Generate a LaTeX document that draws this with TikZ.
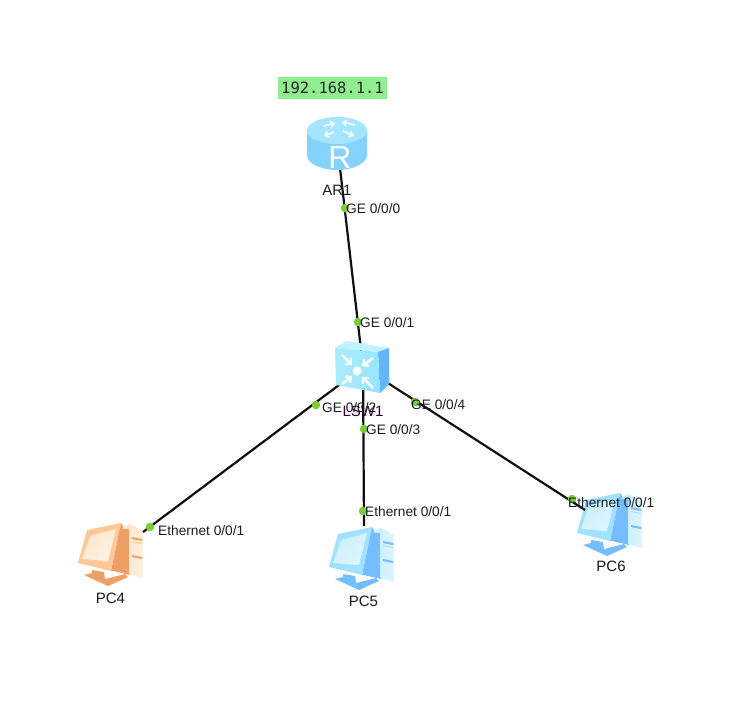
\documentclass[tikz,border=0pt]{standalone}
\usepackage{fontspec}
\setmainfont{Liberation Sans}
\newfontfamily\ipfont{DejaVu Sans Mono}
\usetikzlibrary{arrows.meta}
\definecolor{pcblueA}{HTML}{DDF5FF}
\definecolor{pcblueB}{HTML}{A0E2FF}
\definecolor{pcblueC}{HTML}{74BDFF}
\definecolor{pcblueD}{HTML}{CDF0FF}
\definecolor{pcorangeA}{HTML}{FFF3E2}
\definecolor{pcorangeB}{HTML}{FFC898}
\definecolor{pcorangeC}{HTML}{EE9F66}
\definecolor{pcorangeD}{HTML}{FFE6CE}
\definecolor{portgreen}{HTML}{7CCB3A}
\definecolor{linkblack}{HTML}{101010}
\definecolor{labeltext}{HTML}{1A1A22}
\definecolor{ipgreen}{HTML}{90EE90}
\definecolor{routertop}{HTML}{A4E6FF}
\definecolor{routerside}{HTML}{86D2FF}
\definecolor{switchfront}{HTML}{96E6FF}
\definecolor{switchtop}{HTML}{C0F2FF}
\definecolor{switchside}{HTML}{66B4FF}
\tikzset{
  link/.style={draw=linkblack,line width=2.2pt},
  port/.style={circle,fill=portgreen,inner sep=0pt,minimum size=8.5pt},
  portlabel/.style={font=\fontsize{13.7}{15}\selectfont,text=labeltext,inner sep=0pt,anchor=west},
  devlabel/.style={font=\fontsize{15}{16}\selectfont,text=labeltext,inner sep=0pt},
  anchornode/.style={inner sep=0pt,minimum size=0pt},
  whitearrow/.style={draw=white,line width=2.4pt,-{Straight Barb[length=4pt,width=8pt]}},
  thinwhite/.style={draw=white,line width=1.5pt,-{Straight Barb[length=3.5pt,width=6pt]}}
}
\newcommand{\pcicon}[3]{%
  \begin{scope}[shift={(#1,#2)}]
    % tower
    \fill[pc#3C] (370,532) -- (381,533) -- (381,579) -- (364,575) -- cycle;
    \fill[pc#3D] (370,532) -- (381,528) -- (394,535) -- (381,533) -- cycle;
    \shade[left color=pc#3D,right color=pc#3A] (380,533) -- (394,535) -- (394,582) -- (380,578) -- cycle;
    \fill[pc#3C] (383,541) -- (393,543) -- (393,545) -- (383,543) -- cycle;
    \fill[pc#3B] (383,545) -- (393,547) -- (393,548) -- (383,546) -- cycle;
    \fill[pc#3C] (383,559) -- (393,561) -- (393,563) -- (383,561) -- cycle;
    % stand
    \fill[pc#3C] (343,574) -- (355,576) -- (356,583) -- (376,578) -- (379,581) -- (359,590) -- (335,579) -- (343,577) -- cycle;
    % monitor
    \fill[pc#3C] (372,527) -- (374,530) -- (365,575) -- (362,575) -- cycle;
    \fill[pc#3B] (338,534) -- (372,527) -- (362,575) -- (329,567) -- cycle;
    \shade[left color=pc#3D,right color=pc#3A,shading angle=45] (341,540) -- (367,533) -- (359,565) -- (333,563) -- cycle;
  \end{scope}}
\begin{document}
\begin{tikzpicture}[x=1pt,y=-1pt]
\useasboundingbox (0,0) rectangle (742,721);
\fill[white] (0,0) rectangle (742,721);

% anchors of the devices
\node[anchornode] (ar) at (338,143) {};
\node[anchornode] (lsw) at (363,367) {};
\coordinate (arfoot) at (340,168);
\coordinate (fourend) at (143,532);
\coordinate (fiveend) at (364,526);
\coordinate (sixend) at (585,510);

% PC icons under the links
\pcicon{-251}{-4}{orange}
\pcicon{0}{0}{blue}
\pcicon{248}{-34}{blue}

% links
\draw[link] (arfoot) -- (lsw.center);
\draw[link] (lsw.center) -- (fourend);
\draw[link] (lsw.center) -- (fiveend);
\draw[link] (lsw.center) -- (sixend);

% router
\fill[routerside] (307,130) -- (307,155) arc[start angle=180,end angle=360,x radius=30pt,y radius=15pt] -- (367,130) -- cycle;
\fill[routertop] (337,130.5) ellipse[x radius=30pt,y radius=13.5pt];
\node[font=\fontsize{32}{32}\selectfont,text=white,inner sep=0pt] (rletter) at (340,157) {R};
\draw[thinwhite] (334,132) -- (324,136);
\draw[thinwhite] (343,131) -- (354,136);
\draw[thinwhite] (324,126) -- (335,123);
\draw[thinwhite] (355,125) -- (342,122);

% switch
\fill[switchtop] (335,348) -- (347,341) -- (389,348) -- (378,352) -- cycle;
\fill[switchside] (378,352) -- (389,348) -- (389,384) -- (380,393) -- cycle;
\shade[left color=switchfront!80!white,right color=switchfront] (335,348) -- (378,352) -- (380,393) -- (336,385) -- cycle;
\fill[white] (357,371) circle (4.5pt);
\draw[whitearrow] (342,355) -- (352,365);
\draw[whitearrow] (373,358) -- (362,366);
\draw[whitearrow] (342,384) -- (352,376);
\draw[whitearrow] (373,388) -- (362,377);

% IP label
\node[fill=ipgreen,minimum width=109pt,minimum height=22pt,inner sep=0pt,font=\ipfont\fontsize{15.5}{16}\selectfont,text=black!85] (ip) at (332.5,88) {192.168.1.1};

% device labels
\node[devlabel] (arl) at (337,190) {AR1};
\node[devlabel,text=black!60!violet] (lswl) at (363,411.5) {LSW1};
\node[devlabel] (pcfourl) at (110.5,598) {PC4};
\node[devlabel] (pcfivel) at (363.5,601) {PC5};
\node[devlabel] (pcsixl) at (611,566) {PC6};

% ports
\node[port] (p0) at (345,208) {};
\node[port] (p1) at (358,322) {};
\node[port] (p2) at (316,405) {};
\node[port] (p3) at (364,429) {};
\node[port] (p4) at (415,402) {};
\node[port] (p5) at (150,527) {};
\node[port] (p6) at (363,511) {};
\node[port] (p7) at (572,499) {};
\node[portlabel] (l0) at (346,209) {GE 0/0/0};
\node[portlabel] (l1) at (360,323) {GE 0/0/1};
\node[portlabel] (l2) at (322,408) {GE 0/0/2};
\node[portlabel] (l3) at (366,430) {GE 0/0/3};
\node[portlabel] (l4) at (411,405) {GE 0/0/4};
\node[portlabel] (l5) at (158,531) {Ethernet 0/0/1};
\node[portlabel] (l6) at (365,512) {Ethernet 0/0/1};
\node[portlabel] (l7) at (568,503) {Ethernet 0/0/1};
\end{tikzpicture}
\end{document}
